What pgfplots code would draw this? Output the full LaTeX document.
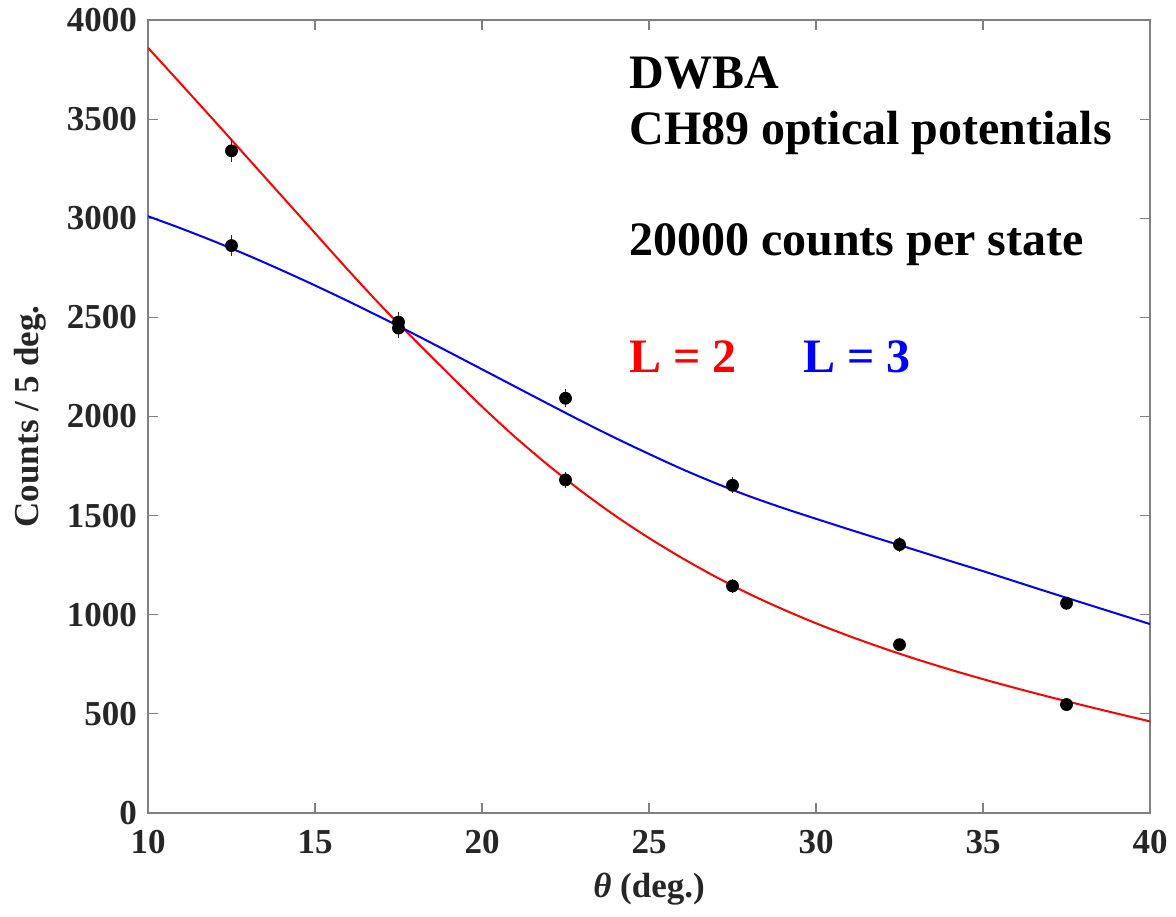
\documentclass[border=0pt]{standalone}
\usepackage{fontspec}
\setmainfont{Liberation Serif}
\usepackage{pgfplots}
\pgfplotsset{compat=1.18}
\definecolor{tickgray}{HTML}{262626}
\definecolor{axgray}{HTML}{808080}
\begin{document}
\begin{tikzpicture}
\begin{axis}[
  name=ax,
  scale only axis,
  width=501pt, height=396.5pt,
  xmin=10, xmax=40, ymin=0, ymax=4000,
  xtick={10,15,...,40},
  ytick={0,500,...,4000},
  tick align=inside,
  major tick length=5pt,
  tick style={axgray, line width=0.6pt},
  axis line style={axgray, line width=0.6pt},
  /pgf/number format/assume math mode=true,
  /pgf/number format/1000 sep={},
  ticklabel style={font=\fontsize{17.5}{19}\selectfont\bfseries, text=tickgray},
  xticklabel style={yshift=-5pt},
  yticklabel style={xshift=-2pt},
  xlabel={\textit{θ} (deg.)},
  ylabel={Counts / 5 deg.},
  label style={font=\fontsize{17.5}{19}\selectfont\bfseries, text=tickgray},
  xlabel style={at={(axis description cs:0.5,-0.0955)}, anchor=center},
  ylabel style={at={(axis description cs:-0.118,0.5)}, anchor=center},
  clip=true,
]
% L=2 curve
\addplot[red, line width=1pt, smooth, no marks] coordinates {
(10,3860) (11,3675) (12,3489) (13,3301) (14,3113) (15,2925) (16,2737)
(17,2555) (18,2383) (19,2215) (20,2050) (21,1895) (22,1752) (23,1620)
(24,1498) (25,1387) (26,1285) (27,1191) (28,1105) (29,1028) (30,957)
(31,892) (32,832) (33,776) (34,724) (35,675) (36,629) (37,585)
(38,543) (39,502) (40,462)};
% L=3 curve
\addplot[blue, line width=1pt, smooth, no marks] coordinates {
(10,3010) (11,2948) (12,2882) (13,2812) (14,2738) (15,2661) (16,2581)
(17,2498) (18,2413) (19,2326) (20,2238) (21,2150) (22,2062) (23,1975)
(24,1891) (25,1811) (26,1734) (27,1663) (28,1598) (29,1539) (30,1484)
(31,1430) (32,1377) (33,1325) (34,1272) (35,1220) (36,1166) (37,1112)
(38,1059) (39,1006) (40,953)};
% data points with error bars
\addplot[only marks, mark=*, mark size=3pt, black,
  error bars/.cd, y dir=both, y explicit,
  error bar style={tickgray, line width=0.6pt}, error mark=none]
coordinates {
(12.5,3340) +- (0,58)
(12.5,2862) +- (0,53)
(17.5,2476) +- (0,50)
(17.5,2446) +- (0,49)
(22.5,2092) +- (0,46)
(22.5,1680) +- (0,41)
(27.5,1653) +- (0,41)
(27.5,1145) +- (0,34)
(32.5,1354) +- (0,37)
(32.5,849) +- (0,29)
(37.5,1058) +- (0,33)
(37.5,547) +- (0,23)
};
\node[anchor=west, font=\fontsize{24}{26}\selectfont\bfseries] at (axis cs:24.2,3733) {DWBA};
\node[anchor=west, font=\fontsize{24}{26}\selectfont\bfseries] at (axis cs:24.2,3430) {CH89 optical potentials};
\node[anchor=west, font=\fontsize{24}{26}\selectfont\bfseries] at (axis cs:24.2,2865) {20000 counts per state};
\node[anchor=west, font=\fontsize{24}{26}\selectfont\bfseries, text=red] at (axis cs:24.2,2300) {L = 2};
\node[anchor=west, font=\fontsize{24}{26}\selectfont\bfseries, text=blue] at (axis cs:29.4,2300) {L = 3};
\end{axis}
\pgfresetboundingbox
\path ([xshift=-74pt,yshift=-52pt]ax.south west) rectangle ([xshift=13pt,yshift=10pt]ax.north east);
\end{tikzpicture}
\end{document}
